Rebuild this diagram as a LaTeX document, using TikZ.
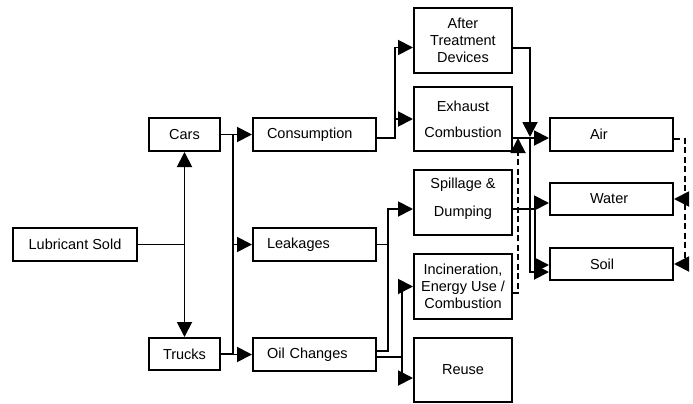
\documentclass[tikz,border=0pt]{standalone}
\usepackage{fontspec}
\setmainfont{Liberation Sans}
\usetikzlibrary{arrows.meta}
\begin{document}
\begin{tikzpicture}[x=1pt,y=-1pt,line width=1.9pt,
  every node/.style={font=\fontsize{14.5}{17}\selectfont},
  box/.style={draw, line width=2pt, inner sep=0pt, align=center},
  midbox/.style={box, text width=95pt, inner xsep=14pt, align=left, minimum height=33pt},
  tallbox/.style={box, minimum width=98pt, minimum height=64.5pt},
  sinkbox/.style={box, text width=43pt, inner xsep=40pt, align=left, minimum height=32.5pt},
  arr/.style={-{Triangle[length=15pt,width=15pt]}},
  arrboth/.style={{Triangle[length=15pt,width=15pt]}-{Triangle[length=15pt,width=15pt]}},
  flowdash/.style={dash pattern=on 6pt off 3.5pt}]
\useasboundingbox (0,0) rectangle (693,404);

% sources
\node[box, minimum width=124pt, minimum height=33pt] (lub) at (75,244.5) {Lubricant Sold};
\node[box, minimum width=71pt, minimum height=33pt] (cars) at (184.5,134.5) {Cars};
\node[box, minimum width=71pt, minimum height=32pt] (trucks) at (184.5,354) {Trucks};

% uses
\node[midbox] (cons) at (314.5,134.5) {Consumption};
\node[midbox] (leak) at (314.5,244.5) {Leakages};
\node[midbox] (oil) at (314.5,354.5) {Oil Changes};

% fates
\node[tallbox] (atd) at (463,40.5) {After\\Treatment\\Devices};
\node[tallbox] (exh) at (463,119) {Exhaust\\[9pt]Combustion};
\node[tallbox] (spill) at (463,202.5) {Spillage \&\\[11pt]Dumping\\[-6pt]\mbox{}};
\node[tallbox] (incin) at (463,286.5) {Incineration,\\Energy Use /\\Combustion};
\node[tallbox] (reuse) at (463,370) {Reuse};

% environmental compartments
\node[sinkbox] (air) at (611.5,134.5) {Air};
\node[sinkbox] (water) at (611.5,199) {Water};
\node[sinkbox] (soil) at (611.5,264) {Soil};

% junction points
\coordinate (bus) at (233,0);
\coordinate (ja) at (395,0);
\coordinate (jb) at (388,0);
\coordinate (jc) at (402,0);
\coordinate (jd) at (530,137);
\coordinate (je) at (535,209);
\coordinate (jf) at (518,138);
\coordinate (jg) at (685,0);

% lubricant split
\draw (lub.east) -- (lub.east -| cars.south);
\draw[arrboth] (cars.south) -- (trucks.north);

% vehicles to uses
\draw (cars.east) -- (cars.east -| bus) -- (trucks.east -| bus) -- (trucks.east);
\draw[arr] (cons.west -| bus) -- (cons.west);
\draw[arr] (leak.west -| bus) -- (leak.west);
\draw[arr] (oil.west -| bus) -- (oil.west);

% consumption
\draw[arr] ([yshift=-3.5pt]cons.east) -- ([yshift=-3.5pt]cons.east -| ja) |- ([yshift=-7pt]atd.west);
\draw[arr] ([yshift=-3.5pt]cons.east -| ja) |- (exh.west);

% leakages and oil changes
\draw[arr] (leak.east) -- (leak.east -| jb) |- ([yshift=-6.5pt]spill.west);
\draw ([yshift=3.5pt]oil.east) -- ([yshift=3.5pt]oil.east -| jb) -- (leak.east -| jb);
\draw ([yshift=-2.5pt]oil.east) -- ([yshift=-2.5pt]oil.east -| jc);
\draw[arr] ([yshift=-2.5pt]oil.east -| jc) |- (incin.west);
\draw[arr] ([yshift=-2.5pt]oil.east -| jc) |- ([yshift=-8pt]reuse.west);

% releases to the environment
\draw[arr] ([yshift=-7.5pt]atd.east) -| (jd);
\draw[arr] (jd) |- ([yshift=-8pt]soil.west);
\draw[arr] ([yshift=-19pt]exh.east) -- ([yshift=-3.5pt]air.west);
\draw ([yshift=-6.5pt]spill.east) -- (je);
\draw[arr] (je) |- ([yshift=-4pt]water.west);
\draw[arr] (je) |- ([yshift=-1pt]soil.west);
\draw[arr, flowdash] ([yshift=-6.5pt]incin.east) -| (jf);

% deposition from air
\draw[flowdash] ([yshift=-4.5pt]air.east) -| (soil.east -| jg);
\draw[arr, flowdash] (water.east -| jg) -- (water.east);
\draw[arr, flowdash] (soil.east -| jg) -- (soil.east);
\end{tikzpicture}
\end{document}
